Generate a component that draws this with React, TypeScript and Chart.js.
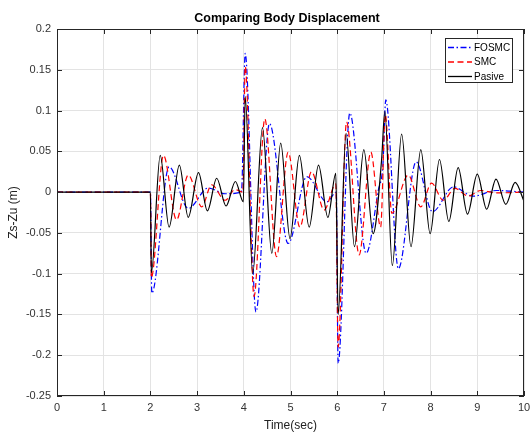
import React, { useEffect, useRef } from "react";
import { Chart, registerables } from "chart.js";
Chart.register(...registerables);

const chartTitle = "Comparing Body Displacement";
const xTitle = "Time(sec)";
const yTitle = "Zs-Zu (m)";
const seriesNames = ["FOSMC", "SMC", "Pasive"];

const fosmcT = [0, 2.0, 2.03, 2.4, 2.81, 3.24, 3.6, 3.95, 4.03, 4.26, 4.55, 4.95, 5.35, 5.78, 5.98, 6.02, 6.27, 6.62, 6.88, 6.98, 7.04, 7.31, 7.69, 8.04, 8.49, 8.91, 9.41, 10];
const fosmcV = [0, 0, -0.124, 0.031, -0.02, 0.005, -0.002, 0.0, 0.17, -0.147, 0.084, -0.063, 0.019, -0.012, 0.0, -0.21, 0.097, -0.075, 0.002, 0.035, 0.113, -0.094, 0.037, -0.024, 0.0065, -0.005, 0.002, 0];

const smcT = [0, 2.0, 2.02, 2.28, 2.56, 2.81, 3.1, 3.31, 3.6, 3.81, 3.98, 4.03, 4.22, 4.45, 4.7, 4.95, 5.2, 5.45, 5.72, 5.97, 6.02, 6.2, 6.47, 6.72, 6.93, 7.03, 7.17, 7.52, 7.79, 8.02, 8.27, 8.52, 8.81, 9.07, 9.4, 10];
const smcV = [0, 0, -0.105, 0.045, -0.034, 0.021, -0.018, 0.009, -0.01, 0.003, 0.0, 0.154, -0.128, 0.09, -0.079, 0.049, -0.043, 0.025, -0.022, 0.01, -0.19, 0.086, -0.077, 0.049, -0.043, 0.095, -0.026, 0.021, -0.018, 0.011, -0.01, 0.0045, -0.005, 0.002, -0.001, 0];

const pasiveT = [0, 2.0, 2.02, 2.21, 2.4, 2.62, 2.81, 3.03, 3.22, 3.42, 3.62, 3.82, 3.99, 4.03, 4.19, 4.4, 4.6, 4.79, 4.99, 5.19, 5.4, 5.6, 5.8, 5.97, 6.02, 6.19, 6.37, 6.57, 6.77, 6.95, 7.02, 7.18, 7.38, 7.58, 7.79, 7.99, 8.19, 8.39, 8.59, 8.79, 9.0, 9.2, 9.4, 9.61, 9.81, 10.0];
const pasiveV = [0, 0, -0.099, 0.045, -0.043, 0.033, -0.031, 0.024, -0.023, 0.017, -0.017, 0.013, -0.012, 0.117, -0.1, 0.079, -0.075, 0.06, -0.057, 0.045, -0.043, 0.033, -0.031, 0.023, -0.15, 0.072, -0.067, 0.052, -0.051, 0.039, 0.099, -0.09, 0.071, -0.067, 0.052, -0.051, 0.04, -0.036, 0.03, -0.027, 0.022, -0.021, 0.016, -0.015, 0.012, -0.011];

const toPoints = (t: number[], v: number[]) => t.map((x, i) => ({ x, y: v[i] }));

const FONT = "'Liberation Sans', Arial, Helvetica, sans-serif";
const AXIS_COLOR = "#262626";

const decorPlugin = {
  id: "decor",
  afterDraw(chart: any) {
    const { ctx, chartArea } = chart;
    const { left, right, top, bottom } = chartArea;
    ctx.save();
    ctx.strokeStyle = AXIS_COLOR;
    ctx.lineWidth = 1;
    ctx.strokeRect(left + 0.5, top + 0.5, right - left - 1, bottom - top - 1);
    const xs = chart.scales.x;
    const ys = chart.scales.y;
    ctx.beginPath();
    xs.ticks.forEach((tk: any) => {
      const px = Math.round(xs.getPixelForValue(tk.value)) + 0.5;
      ctx.moveTo(px, bottom);
      ctx.lineTo(px, bottom - 5);
      ctx.moveTo(px, top);
      ctx.lineTo(px, top + 5);
    });
    ys.ticks.forEach((tk: any) => {
      const py = Math.round(ys.getPixelForValue(tk.value)) + 0.5;
      ctx.moveTo(left, py);
      ctx.lineTo(left + 5, py);
      ctx.moveTo(right, py);
      ctx.lineTo(right - 5, py);
    });
    ctx.stroke();
    ctx.fillStyle = "#000";
    ctx.font = `bold 12.5px ${FONT}`;
    ctx.textAlign = "center";
    ctx.textBaseline = "middle";
    ctx.fillText(chartTitle, 287, 19);
    const bx = 445, by = 38, bw = 67, bh = 44;
    ctx.fillStyle = "#fff";
    ctx.fillRect(bx, by, bw, bh);
    ctx.strokeStyle = AXIS_COLOR;
    ctx.lineWidth = 1;
    ctx.strokeRect(bx + 0.5, by + 0.5, bw, bh);
    const rows = [47.5, 62, 76.5];
    chart.data.datasets.forEach((ds: any, i: number) => {
      ctx.beginPath();
      ctx.setLineDash(ds.borderDash || []);
      ctx.strokeStyle = ds.borderColor;
      ctx.lineWidth = 1.3;
      ctx.moveTo(448, rows[i]);
      ctx.lineTo(472, rows[i]);
      ctx.stroke();
      ctx.setLineDash([]);
      ctx.fillStyle = "#000";
      ctx.font = `10px ${FONT}`;
      ctx.textAlign = "left";
      ctx.textBaseline = "middle";
      ctx.fillText(ds.label, 474, rows[i] + 0.5);
    });
    ctx.restore();
  },
};

export default function App() {
  const ref = useRef<HTMLCanvasElement | null>(null);
  useEffect(() => {
    if (!ref.current) return;
    const chart = new Chart(ref.current, {
      type: "line",
      data: {
        datasets: [
          {
            label: seriesNames[0],
            data: toPoints(fosmcT, fosmcV),
            borderColor: "#0000ff",
            borderWidth: 1.2,
            borderDash: [6, 2.5, 1.5, 2.5],
            pointRadius: 0,
            cubicInterpolationMode: "monotone",
            order: 3,
          },
          {
            label: seriesNames[1],
            data: toPoints(smcT, smcV),
            borderColor: "#ff0000",
            borderWidth: 1.2,
            borderDash: [6, 3.5],
            pointRadius: 0,
            cubicInterpolationMode: "monotone",
            order: 2,
          },
          {
            label: seriesNames[2],
            data: toPoints(pasiveT, pasiveV),
            borderColor: "#000000",
            borderWidth: 1.2,
            pointRadius: 0,
            cubicInterpolationMode: "monotone",
            order: 1,
          },
        ],
      },
      options: {
        responsive: false,
        animation: false,
        layout: { padding: { top: 29, right: 7, left: 0, bottom: 0 } },
        plugins: { legend: { display: false }, title: { display: false }, tooltip: { enabled: false } },
        scales: {
          x: {
            type: "linear",
            min: 0,
            max: 10,
            ticks: { stepSize: 1, color: "#333", font: { family: FONT, size: 11 }, padding: 5, maxRotation: 0 },
            grid: { color: "#e3e3e3", drawTicks: false },
            border: { display: false },
            title: { display: true, text: xTitle, color: "#222", font: { family: FONT, size: 12 }, padding: 0 },
            afterFit: (s: any) => { s.height = 37; s.paddingLeft = 0; s.paddingRight = 0; },
          },
          y: {
            type: "linear",
            min: -0.25,
            max: 0.2,
            ticks: {
              stepSize: 0.05,
              color: "#333",
              font: { family: FONT, size: 11 },
              padding: 6,
              callback: (v: any) => String(parseFloat(Number(v).toFixed(2))),
            },
            grid: { color: "#e3e3e3", drawTicks: false },
            border: { display: false },
            title: { display: true, text: yTitle, color: "#222", font: { family: FONT, size: 12 }, padding: { top: 6, bottom: 0 } },
            afterFit: (s: any) => { s.width = 57; s.paddingTop = 0; s.paddingBottom = 0; },
          },
        },
      },
      plugins: [decorPlugin],
    } as any);
    return () => chart.destroy();
  }, []);
  return (
    <div style={{ position: "fixed", left: 0, top: 0, width: 531, height: 433, background: "#fff" }}>
      <canvas ref={ref} width={531} height={433} />
    </div>
  );
}
